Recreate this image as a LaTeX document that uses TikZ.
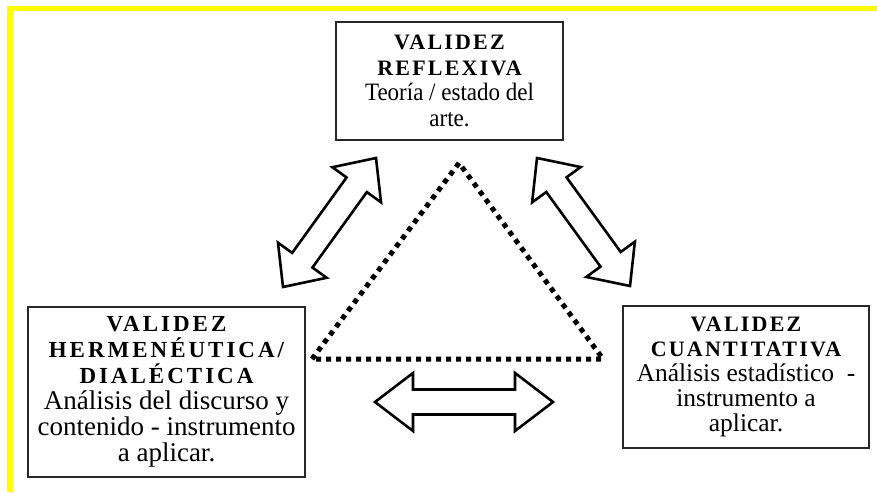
\documentclass[tikz,border=0pt]{standalone}
\usepackage{fontspec}
\setmainfont{Liberation Serif}
\newfontfamily\bodyfont{Liberation Serif}[FakeStretch=0.92]
\newfontfamily\plainfont{Liberation Serif}
\newfontfamily\titlefont{Liberation Serif}[LetterSpace=10]
\newfontfamily\titlefontwide{Liberation Serif}[LetterSpace=13]
\usetikzlibrary{calc}
\definecolor{frameyellow}{RGB}{255,255,0}
\definecolor{boxline}{RGB}{40,40,40}
% per-box line styles
\newcommand\ttlA{\titlefont\bfseries\fontsize{22}{25.8}\selectfont}
\newcommand\ttlB{\titlefontwide\bfseries\fontsize{23}{26}\selectfont}
\newcommand\bdyA{\bodyfont\mdseries\fontsize{25}{25.8}\selectfont}
\newcommand\bdyB{\plainfont\mdseries\fontsize{27}{26}\selectfont}
\newcommand\bdyC{\plainfont\mdseries\fontsize{25.5}{25}\selectfont}
\newcommand\dblarr[5]{% ends, head length, head half-width, shaft half-width
  \draw[arrowline] (#1)
   -- ($(#1)!#3!(#2)!#4!90:(#2)$)
   -- ($(#1)!#3!(#2)!#5!90:(#2)$)
   -- ($(#2)!#3!(#1)!#5!-90:(#1)$)
   -- ($(#2)!#3!(#1)!#4!-90:(#1)$)
   -- (#2)
   -- ($(#2)!#3!(#1)!#4!90:(#1)$)
   -- ($(#2)!#3!(#1)!#5!90:(#1)$)
   -- ($(#1)!#3!(#2)!#5!-90:(#2)$)
   -- ($(#1)!#3!(#2)!#4!-90:(#2)$)
   -- cycle;}
\tikzset{
  box/.style={draw=boxline, line width=1.5pt, fill=white, align=center, inner sep=0pt},
  arrowline/.style={draw=black, line width=2.6pt, fill=white, line join=miter},
  dotline/.style={draw=black, line width=5pt, dash pattern=on 5pt off 5pt},
  yellowbar/.style={draw=frameyellow, line width=5.5pt}
}
\begin{document}
\begin{tikzpicture}[x=1pt,y=-1pt]
\useasboundingbox (0,0) rectangle (877,492);
\fill[white] (0,0) rectangle (877,492);
% yellow frame
\coordinate (ytr) at (877,8.5);
\coordinate (ytl) at (7.25,8.5);
\coordinate (ylt) at (10,5.75);
\coordinate (ybl) at (10,492);
\draw[yellowbar] (ytr) -- (ytl);
\draw[yellowbar] (ylt) -- (ybl);
% boxes
\node[box, minimum width=227pt, minimum height=118pt,
      font=\fontsize{25}{25.8}\selectfont] (top) at (449.5,81)
  {\ttlA VALIDEZ\\ \ttlA REFLEXIVA\\ \bdyA Teoría / estado del\\ \bdyA arte.};
\node[box, minimum width=277pt, minimum height=170pt,
      font=\fontsize{27}{26}\selectfont] (left) at (166.5,392)
  {\ttlB VALIDEZ\\ \ttlB HERMENÉUTICA/\\ \ttlB DIALÉCTICA\\ \bdyB Análisis del discurso y\\ \bdyB contenido - instrumento\\ \bdyB a aplicar.};
\node[box, minimum width=246pt, minimum height=142pt,
      font=\fontsize{25.5}{25}\selectfont] (right) at (746,377)
  {\ttlA VALIDEZ\\ \ttlA CUANTITATIVA\\ \bdyC Análisis estadístico~ -\\ \bdyC instrumento a\\ \bdyC aplicar.};
% dotted triangle
\coordinate (apex) at (459,163);
\coordinate (tbl) at (312,359);
\coordinate (tbr) at (603,359);
\draw[dotline] (tbl) -- (apex) -- (tbr) -- cycle;
% double arrows
\coordinate (la1) at (283,287);
\coordinate (la2) at (376,158);
\coordinate (ra1) at (537,158);
\coordinate (ra2) at (630,286);
\coordinate (ba1) at (375,402);
\coordinate (ba2) at (553,402);
\dblarr{la1}{la2}{33pt}{30pt}{12.5pt}
\dblarr{ra1}{ra2}{33pt}{30pt}{12.5pt}
\dblarr{ba1}{ba2}{38pt}{29pt}{12.5pt}
\end{tikzpicture}
\end{document}
